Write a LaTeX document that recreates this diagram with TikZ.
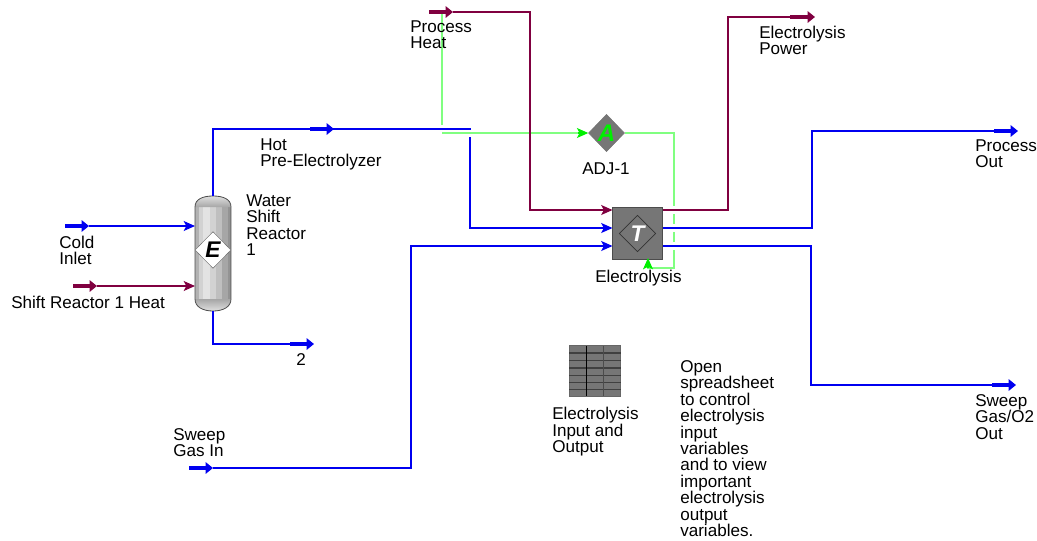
\documentclass[tikz,border=0pt]{standalone}
\usepackage{fontspec}
\setmainfont{Liberation Sans}
\usetikzlibrary{arrows.meta,shapes.geometric}
\definecolor{hsblue}{RGB}{0,0,240}
\definecolor{hsmaroon}{RGB}{128,0,64}
\definecolor{hsgreen}{RGB}{128,255,128}
\definecolor{hsgreenb}{RGB}{0,240,0}
\definecolor{hsgrey}{RGB}{118,118,118}
\tikzset{
 x=0.75pt,y=-0.75pt,
 bl/.style={draw=hsblue,line width=1.1pt},
 mr/.style={draw=hsmaroon,line width=1.1pt},
 gr/.style={draw=hsgreen,line width=1.1pt},
 tipb/.style={-{Stealth[length=8.5pt,width=7.5pt,inset=2pt]},hsblue,line width=1pt},
 tipm/.style={-{Stealth[length=8.5pt,width=7.5pt,inset=2pt]},hsmaroon,line width=1pt},
 tipg/.style={-{Stealth[length=8.5pt,width=7.5pt,inset=2pt]},hsgreenb,line width=1pt},
 stub/.style={line width=3pt,-{Triangle[length=5.5pt,width=8.5pt]}},
 lab/.style={anchor=north west,inner sep=0pt,align=left,font=\fontsize{12.8}{12.35}\selectfont},
 pt/.style={inner sep=0pt,minimum size=0pt},
}
\begin{document}
\begin{tikzpicture}
\useasboundingbox (0,0) rectangle (1037,540);
% anchors
\coordinate (ph) at (429,12);
\coordinate (phend) at (453,12);
\coordinate (ep) at (790,17);
\coordinate (epend) at (815,17);
\coordinate (hot) at (471,129);
\coordinate (hotA) at (310,129);
\coordinate (hotB) at (334,129);
\coordinate (poA) at (994,131);
\coordinate (poB) at (1018,131);
\coordinate (sgA) at (992,385);
\coordinate (sgB) at (1016,385);
\coordinate (siA) at (189,468);
\coordinate (siB) at (213,468);
\coordinate (ciA) at (65,226);
\coordinate (ciB) at (89,226);
\coordinate (shA) at (73,286);
\coordinate (shB) at (97,286);
\coordinate (s2A) at (290,344);
\coordinate (s2B) at (314,344);
\coordinate (gt) at (442,12);
\coordinate (gs) at (442,133);

% Vessel
\fill[gray!45] (195,207) rectangle (231,299);
\fill[gray!60] (195,207) rectangle (199,299);
\fill[gray!35] (199,207) rectangle (203,299);
\fill[gray!22] (203,207) rectangle (210,299);
\fill[gray!35] (210,207) rectangle (216,299);
\fill[gray!50] (216,207) rectangle (222,299);
\fill[gray!70] (222,207) rectangle (228,299);
\fill[gray!85] (228,207) rectangle (231,299);
\shade[top color=gray!25,bottom color=gray!70]
  (195,207) .. controls (195,199) and (203,196) .. (213,196) .. controls (223,196) and (231,199) .. (231,207) -- cycle;
\shade[top color=gray!70,bottom color=gray!25]
  (195,299) .. controls (195,307) and (203,311) .. (213,311) .. controls (223,311) and (231,307) .. (231,299) -- cycle;
\draw[black!70,line width=.6pt] (195,207) .. controls (195,199) and (203,196) .. (213,196) .. controls (223,196) and (231,199) .. (231,207)
  -- (231,299) .. controls (231,307) and (223,311) .. (213,311) .. controls (203,311) and (195,307) .. (195,299) -- cycle;
\node[diamond,fill=white,draw=black!60,line width=.3pt,inner sep=0pt,minimum width=27pt,minimum height=27.5pt] (wsrd) at (213,250) {};
\node[font=\fontsize{17}{17}\selectfont\bfseries\itshape,inner sep=0pt] (wsrE) at (213,250) {E};

% ADJ diamond
\node[diamond,fill=hsgrey,draw=black!55,line width=.4pt,inner sep=0pt,minimum width=27pt,minimum height=28pt] (adj) at (606.5,133) {};
\node[font=\fontsize{18}{18}\selectfont\bfseries\itshape,text=hsgreenb,inner sep=0pt] (adjA) at (606.5,133) {A};

% Electrolysis block
\node[rectangle,fill=hsgrey,draw=black!70,line width=.6pt,minimum width=38pt,minimum height=38.5pt,inner sep=0pt] (el) at (637.5,233.5) {};
\node[diamond,draw=black!80,line width=.5pt,inner sep=0pt,minimum width=27.5pt,minimum height=27.5pt] (eld) at (637.5,233.5) {};
\node[font=\fontsize{17}{17}\selectfont\bfseries\itshape,text=white,inner sep=0pt] (elT) at (637.5,233.5) {T};

% Spreadsheet
\node[rectangle,fill=hsgrey,draw=black!60,line width=.6pt,minimum width=38.5pt,minimum height=38pt,inner sep=0pt] (ss) at (595,371) {};
\foreach \yy in {353,360.5,368,375.5,382.5,389.5}{\draw[black!75,line width=1pt] (569,\yy) -- (621,\yy);}
\draw[black,line width=.8pt] (586.5,346) -- (586.5,396);
\draw[black!70,line width=.8pt] (603.5,346) -- (603.5,396);

% green signals
\draw[gr] (gt) -- (442,125);
\draw[gr] (gs) -- (586,133);
\draw[tipg] (578,133) -- (adj.west);
\draw[gr] (adj.east) -- (674,133) -- (674,206);
\draw[gr] (674,214) -- (674,224);
\draw[gr] (674,232) -- (674,242);
\draw[gr] (674,250) -- (674,268) -- (648,268) -- (648,266);
\draw[tipg] (648,268) -- (648,258);

% maroon
\draw[mr] (phend) -- (530,12) -- (530,210) -- (606,210);
\draw[tipm] (600,210) -- (612.5,210);
\draw[mr] (el.east |- 0,210) -- (728,210) -- (728,17) -- (ep);
\draw[hsmaroon,stub] (ph) -- (phend);
\draw[hsmaroon,stub] (ep) -- (epend);
\draw[mr] (shB) -- (190,286);
\draw[hsmaroon,stub] (shA) -- (shB);
\draw[tipm] (183,286) -- (195,286);

% blue
\draw[bl] (213,196) -- (213,129) -- (hot);
\draw[hsblue,stub] (hotA) -- (hotB);
\draw[bl] (470,137) -- (470,228) -- (606,228);
\draw[tipb] (600,228) -- (612.5,228);
\draw[bl] (siB) -- (411,468) -- (411,246) -- (606,246);
\draw[tipb] (600,246) -- (612.5,246);
\draw[hsblue,stub] (siA) -- (siB);
\draw[bl] (el.east |- 0,228) -- (812,228) -- (812,131) -- (poA);
\draw[hsblue,stub] (poA) -- (poB);
\draw[bl] (el.east |- 0,246) -- (811,246) -- (811,385) -- (sgA);
\draw[hsblue,stub] (sgA) -- (sgB);
\draw[bl] (ciB) -- (190,226);
\draw[hsblue,stub] (ciA) -- (ciB);
\draw[tipb] (183,226) -- (195,226);
\draw[bl] (213,311) -- (213,344) -- (s2A);
\draw[hsblue,stub] (s2A) -- (s2B);

% labels
\node[lab] (l1) at (410,20.5) {Process\\Heat};
\node[lab] (l2) at (759,25.5) {Electrolysis\\Power};
\node[lab] (l3) at (260,138.5) {Hot\\Pre-Electrolyzer};
\node[lab] (l4) at (246,194.5) {Water\\Shift\\Reactor\\1};
\node[lab] (l5) at (59,235.5) {Cold\\Inlet};
\node[lab] (l6) at (11,295.5) {Shift Reactor 1 Heat};
\node[lab] (l7) at (296,353.5) {2};
\node[lab] (l8) at (582,162.5) {ADJ-1};
\node[lab] (l9) at (595,269.5) {Electrolysis};
\node[lab] (l10) at (975,139.5) {Process\\Out};
\node[lab] (l11) at (975,394) {Sweep\\Gas/O2\\Out};
\node[lab] (l12) at (173,428) {Sweep\\Gas In};
\node[lab] (l13) at (552,407) {Electrolysis\\Input and\\Output};
\node[lab] (l14) at (680,360) {Open\\spreadsheet\\to control\\electrolysis\\input\\variables\\and to view\\important\\electrolysis\\output\\variables.};
\end{tikzpicture}
\end{document}
